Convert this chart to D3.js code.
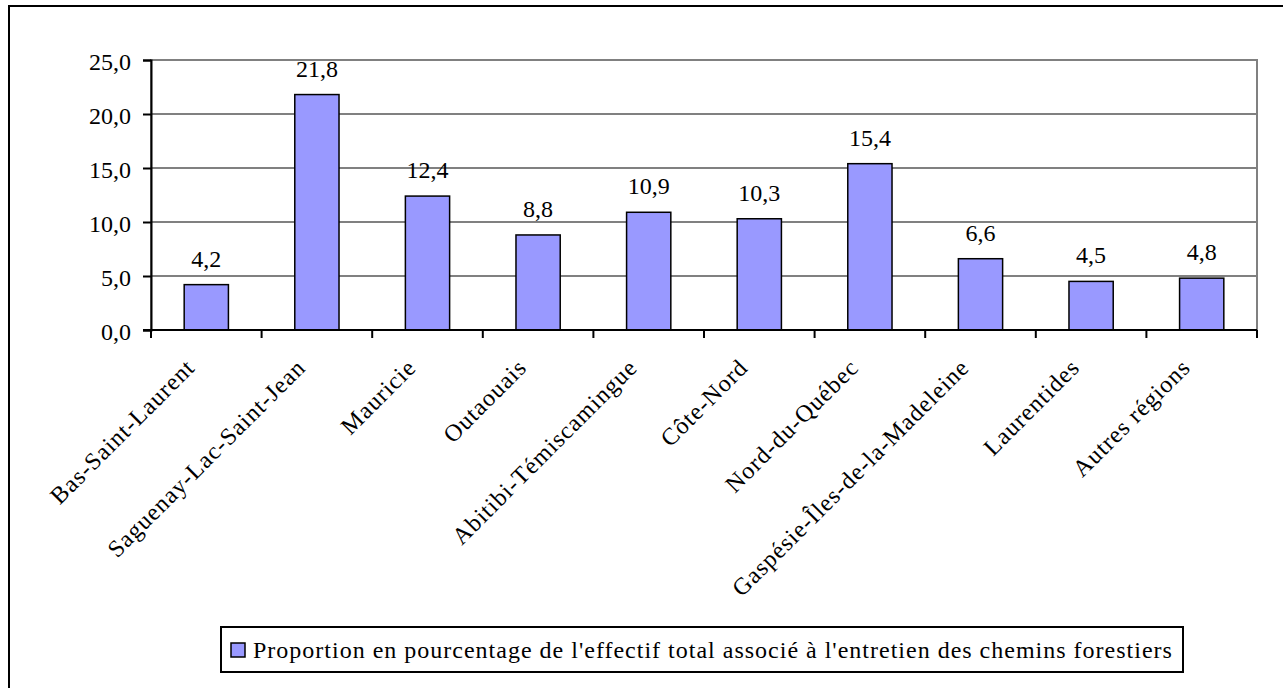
<!DOCTYPE html>
<html><head><meta charset="utf-8">
<script src="https://cdn.jsdelivr.net/npm/d3@7"></script>
<style>body{margin:0;background:#fff}svg{display:block}</style>
</head><body><svg id="c" width="1283" height="688"></svg>
<script>
const categories = ["Bas-Saint-Laurent","Saguenay-Lac-Saint-Jean","Mauricie","Outaouais","Abitibi-Témiscamingue","Côte-Nord","Nord-du-Québec","Gaspésie-Îles-de-la-Madeleine","Laurentides","Autres régions"];
const values = [4.2,21.8,12.4,8.8,10.9,10.3,15.4,6.6,4.5,4.8];
const yTicks = [0,5,10,15,20,25];
const seriesName = "Proportion en pourcentage de l'effectif total associé à l'entretien des chemins forestiers";

const FONT = '"Liberation Serif","Times New Roman",Tinos,serif';
const svg = d3.select("#c");
const fs = 24;
const m = {l:151, r:1257, t:60, b:330};
const fmt = v => d3.format(".1f")(v).replace(".", ",");

svg.append("rect").attr("x",9).attr("y",6).attr("width",1400).attr("height",800)
  .attr("fill","#fff").attr("stroke","#000").attr("stroke-width",2);

const x = d3.scaleBand().domain(categories).range([m.l,m.r]).paddingInner(0.6).paddingOuter(0.3);
const xb = d3.scaleBand().domain(categories).range([m.l,m.r]);
const y = d3.scaleLinear().domain([0,25]).range([m.b,m.t]);

svg.append("rect").attr("x",m.l).attr("y",m.t).attr("width",m.r-m.l).attr("height",m.b-m.t)
  .attr("fill","none").attr("stroke","#808080").attr("stroke-width",2);

svg.append("g").selectAll("line").data(yTicks.filter(d=>d>0)).join("line")
  .attr("x1",m.l).attr("x2",m.r).attr("y1",d=>y(d)).attr("y2",d=>y(d))
  .attr("stroke","#808080").attr("stroke-width",2);

svg.append("g").selectAll("rect").data(values).join("rect")
  .attr("x",(d,i)=>x(categories[i])).attr("width",x.bandwidth())
  .attr("y",d=>y(d)).attr("height",d=>y(0)-y(d))
  .attr("fill","#9999FF").attr("stroke","#000").attr("stroke-width",1.5);

svg.append("g").selectAll("text").data(values).join("text")
  .attr("x",(d,i)=>x(categories[i])+x.bandwidth()/2).attr("y",d=>y(d)-18)
  .attr("text-anchor","middle").style("font-family",FONT).attr("font-size",fs).attr("fill","#000").text(d=>fmt(d));

const yAxis = svg.append("g").attr("transform",`translate(${m.l},0)`)
  .call(d3.axisLeft(y).tickValues(yTicks).tickSize(8).tickPadding(12).tickFormat(fmt));
yAxis.select(".domain").attr("stroke","#000").attr("stroke-width",2);
yAxis.selectAll(".tick line").attr("stroke","#000").attr("stroke-width",2);
yAxis.selectAll("text").style("font-family",FONT).attr("font-size",fs).attr("fill","#000").attr("dy","0.4em");

const boundaries = categories.map(c=>xb(c)).concat([m.r]);
svg.append("line").attr("x1",m.l-8).attr("x2",m.r).attr("y1",m.b).attr("y2",m.b).attr("stroke","#000").attr("stroke-width",2);
svg.append("g").selectAll("line").data(boundaries).join("line")
  .attr("x1",d=>d).attr("x2",d=>d).attr("y1",m.b).attr("y2",m.b+8).attr("stroke","#000").attr("stroke-width",2);

svg.append("g").selectAll("text").data(categories).join("text")
  .attr("transform",d=>`translate(${xb(d)+xb.bandwidth()/2-10},${m.b+39}) rotate(-45)`)
  .attr("text-anchor","end").style("font-family",FONT).style("letter-spacing","1px")
  .attr("font-size",fs).attr("fill","#000").text(d=>d);

const lg = svg.append("g");
lg.append("rect").attr("x",221).attr("y",627).attr("width",962).attr("height",45)
  .attr("fill","#fff").attr("stroke","#000").attr("stroke-width",2);
lg.append("rect").attr("x",231).attr("y",643).attr("width",14).attr("height",14)
  .attr("fill","#9999FF").attr("stroke","#000").attr("stroke-width",1.5);
lg.append("text").attr("x",253).attr("y",658).style("font-family",FONT).style("letter-spacing","1px")
  .attr("font-size",fs).attr("fill","#000").text(seriesName);
</script></body></html>
